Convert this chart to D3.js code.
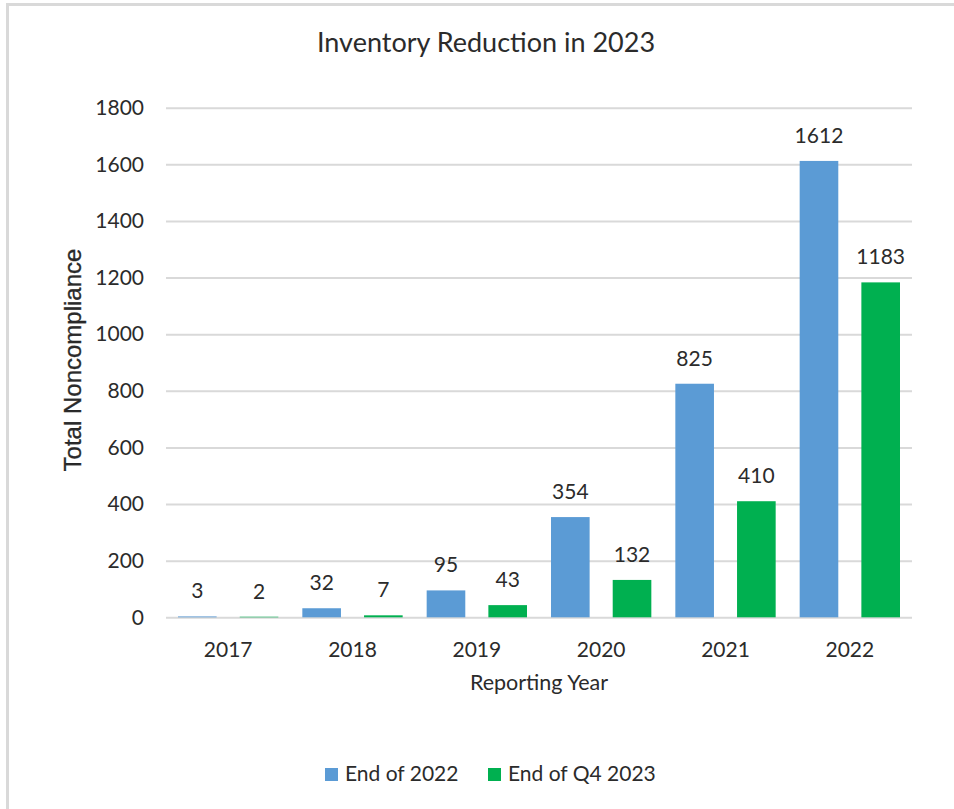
<!DOCTYPE html>
<html>
<head>
<meta charset="utf-8">
<script src="https://cdn.jsdelivr.net/npm/d3@7"></script>
<style>
  html, body { margin: 0; padding: 0; background: #fff; }
  svg { display: block; }
  text { font-family: Lato, "Open Sans", sans-serif; fill: #2b2b2b; }
</style>
</head>
<body>
<svg id="chart" width="954" height="809"></svg>
<script>
const categories = ["2017", "2018", "2019", "2020", "2021", "2022"];
const seriesNames = ["End of 2022", "End of Q4 2023"];
const end2022 = [3, 32, 95, 354, 825, 1612];
const endQ42023 = [2, 7, 43, 132, 410, 1183];
const yTicks = [0, 200, 400, 600, 800, 1000, 1200, 1400, 1600, 1800];
const colors = ["#5B9BD5", "#00B050"];

const seriesValues = [end2022, endQ42023];
const rows = categories.map((c, i) => ({ cat: c, vals: seriesValues.map(s => s[i]) }));

const svg = d3.select("#chart");

// frame (top & left edges visible)
svg.append("line").attr("x1", 6).attr("x2", 954).attr("y1", 4.5).attr("y2", 4.5)
  .attr("stroke", "#d9d9d9").attr("stroke-width", 3);
svg.append("line").attr("x1", 7.5).attr("x2", 7.5).attr("y1", 3).attr("y2", 809)
  .attr("stroke", "#d9d9d9").attr("stroke-width", 3);

const plotLeft = 166, plotRight = 912, plotTop = 107.7, plotBottom = 617.3;

const x0 = d3.scaleBand().domain(categories).range([plotLeft, plotRight]).padding(0);
const x1 = d3.scaleBand().domain(seriesNames).range([12, x0.bandwidth() - 12]).paddingInner(0.374).paddingOuter(0);
const y = d3.scaleLinear().domain([0, 1800]).range([plotBottom, plotTop]);

// gridlines + y tick labels via axis
const yAxis = d3.axisLeft(y).tickValues(yTicks).tickSize(-(plotRight - plotLeft)).tickPadding(22).tickFormat(d3.format("d"));
const gy = svg.append("g").attr("transform", `translate(${plotLeft},0)`).call(yAxis);
gy.select(".domain").remove();
gy.selectAll(".tick line").attr("stroke", "#d9d9d9").attr("stroke-width", 2);
gy.selectAll(".tick text").style("font-size", "21px").attr("fill", "#2b2b2b").style("font-family", "Lato, sans-serif");

// bars
const groups = svg.append("g").selectAll("g").data(rows).join("g")
  .attr("transform", d => `translate(${x0(d.cat)},0)`);

groups.selectAll("rect").data(d => d.vals.map((v, j) => ({ name: seriesNames[j], v, j })))
  .join("rect")
  .attr("x", d => x1(d.name))
  .attr("width", x1.bandwidth())
  .attr("y", d => y(d.v))
  .attr("height", d => y(0) - y(d.v))
  .attr("fill", d => colors[d.j]);

groups.selectAll("text.lbl").data(d => d.vals.map((v, j) => ({ name: seriesNames[j], v, j })))
  .join("text")
  .attr("class", "lbl")
  .attr("x", d => x1(d.name) + x1.bandwidth() / 2)
  .attr("y", d => y(d.v) - 18)
  .attr("text-anchor", "middle")
  .style("font-size", "21px")
  .text(d => d.v);

// x axis labels
const xAxis = d3.axisBottom(x0).tickSize(0).tickPadding(0);
const gx = svg.append("g").attr("transform", `translate(0,${plotBottom})`).call(xAxis);
gx.select(".domain").remove();
gx.selectAll(".tick text").attr("dy", null).attr("y", 40).style("font-size", "21px").attr("fill", "#2b2b2b")
  .style("font-family", "Lato, sans-serif");

// titles
svg.append("text").attr("x", 486).attr("y", 52).attr("text-anchor", "middle")
  .style("font-size", "27px").text("Inventory Reduction in 2023");

svg.append("text").attr("x", (plotLeft + plotRight) / 2).attr("y", 690).attr("text-anchor", "middle")
  .style("font-size", "21.5px").text("Reporting Year");

svg.append("text")
  .attr("transform", `translate(81,${(250 + 470) / 2}) rotate(-90)`)
  .attr("text-anchor", "middle")
  .style("font-family", "'Liberation Sans', Arial, sans-serif")
  .style("font-size", "24px")
  .attr("fill", "#1a1a1a")
  .style("stroke", "#1a1a1a")
  .style("stroke-width", "0.3px")
  .text("Total Noncompliance");

// legend
const legendX = [325, 488];
const lg = svg.append("g").selectAll("g").data(seriesNames).join("g")
  .attr("transform", (d, i) => `translate(${legendX[i]},768)`);
lg.append("rect").attr("width", 13).attr("height", 13).attr("fill", (d, i) => colors[i]);
lg.append("text").attr("x", 20).attr("y", 13).style("font-size", "21px").text(d => d);
</script>
</body>
</html>
